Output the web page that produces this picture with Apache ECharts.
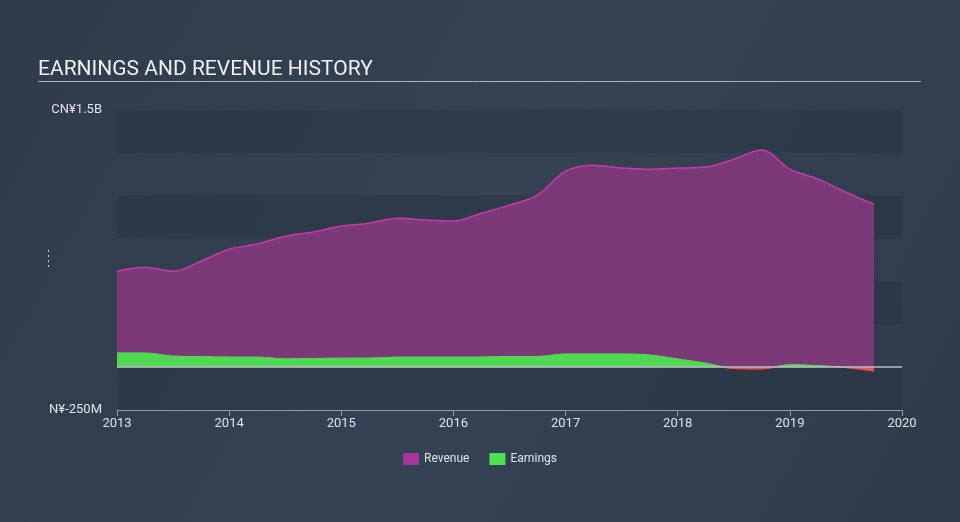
<!DOCTYPE html>
<html><head><meta charset="utf-8">
<script src="https://cdn.jsdelivr.net/npm/echarts@6/dist/echarts.min.js"></script>
<style>html,body{margin:0;padding:0;background:#323f4f;}#c{width:960px;height:522px;}</style>
</head><body><div id="c"></div>
<script>
// Quarterly TTM data (x in decimal years, values in CN¥ millions)
const periods = [2013.0,2013.25,2013.5,2013.75,2014.0,2014.25,2014.5,2014.75,2015.0,2015.25,2015.5,2015.75,2016.0,2016.25,2016.5,2016.75,2017.0,2017.25,2017.5,2017.75,2018.0,2018.25,2018.5,2018.75,2019.0,2019.25,2019.5,2019.75];
const revenue = [560,583,560,618,688,718,764,788,823,840,869,858,852,898,945,1003,1143,1178,1161,1155,1161,1167,1213,1266,1155,1097,1021,951];
const earnings = [82,82,64,61,58,58,48,50,52,52,58,58,58,58,62,62,76,76,76,70,47,23,-8,-10,14,8,-2,-22];
const yearTicks = [2013,2014,2015,2016,2017,2018,2019,2020];

const chart = echarts.init(document.getElementById('c'));
const revData = periods.map((p,i)=>[p,revenue[i]]);
const earnData = periods.map((p,i)=>[p,earnings[i]]);
const GREEN = '#4fd852', RED = '#f0504c';
chart.setOption({
  backgroundColor: {type:'linear',x:0,y:0,x2:1,y2:1,colorStops:[{offset:0,color:'#2f3b4b'},{offset:0.5,color:'#344253'},{offset:1,color:'#2f3b4a'}]},
  animation:false,
  title:{text:'EARNINGS AND REVENUE HISTORY',left:33,top:54,textStyle:{color:'#eef0f2',fontFamily:'Roboto',fontWeight:'normal',fontSize:21}},
  graphic:[
    {type:'line',shape:{x1:38,y1:81.5,x2:921,y2:81.5},style:{stroke:'#aab3be',lineWidth:1}},
    {type:'line',shape:{x1:48.5,y1:250,x2:48.5,y2:270},style:{stroke:'#c8ccd2',lineWidth:1,lineDash:[2,3]}}
  ],
  legend:{bottom:52,left:'center',itemWidth:16,itemHeight:12,itemGap:20,icon:'rect',
    textStyle:{color:'#e0e3e8',fontFamily:'Roboto',fontSize:12},
    data:[{name:'Revenue',itemStyle:{color:'#a3379b'}},{name:'Earnings',itemStyle:{color:'#4fe04f'}}]},
  grid:{left:117,right:58,top:110,bottom:112},
  xAxis:{type:'value',min:2013,max:2020,interval:1,
    axisLine:{onZero:false,lineStyle:{color:'#8f9aa8',width:1}},
    axisTick:{show:true,length:6,lineStyle:{color:'#8f9aa8'}},
    axisLabel:{color:'#dfe2e6',fontFamily:'Roboto',fontSize:13,margin:7,formatter:v=>String(Math.round(v))},
    splitLine:{show:false}},
  yAxis:{type:'value',min:-250,max:1500,interval:250,
    axisLine:{show:false},axisTick:{show:false},
    axisLabel:{color:'#dfe2e6',fontFamily:'Roboto',fontSize:13,margin:15,
      formatter:v=> v===1500?'CN¥1.5B':(v===-250?'N¥-250M':'')},
    splitLine:{show:false},
    splitArea:{show:true,areaStyle:{color:['rgba(38,50,64,0.45)','rgba(0,0,0,0)']}}},
  series:[
    {name:'Revenue',type:'line',data:revData,smooth:0.35,symbol:'none',
      lineStyle:{color:'#c93aa9',width:1.5},
      itemStyle:{color:'#a3379b'},
      areaStyle:{color:'#7b3a77',opacity:1},
      markLine:{silent:true,symbol:'none',label:{show:false},
        lineStyle:{color:'#b9bfc6',type:'solid',width:1.5},
        data:[{yAxis:0}]}},
    {name:'Earnings',type:'line',data:earnData,smooth:0.35,symbol:'none',
      lineStyle:{width:0},
      itemStyle:{color:'#4fe04f'},
      areaStyle:{opacity:1,color:GREEN}}
  ]
});
// colour earnings green above zero, red below, using the axis scale to find zero
const y0 = chart.convertToPixel({gridIndex:0},[2013,0])[1];
const grad = new echarts.graphic.LinearGradient(0, y0-1, 0, y0+1, [
  {offset:0,color:GREEN},{offset:0.5,color:GREEN},{offset:0.5,color:RED},{offset:1,color:RED}], true);
chart.setOption({series:[{},{areaStyle:{color:grad},lineStyle:{color:grad,width:1}}]});
</script></body></html>
